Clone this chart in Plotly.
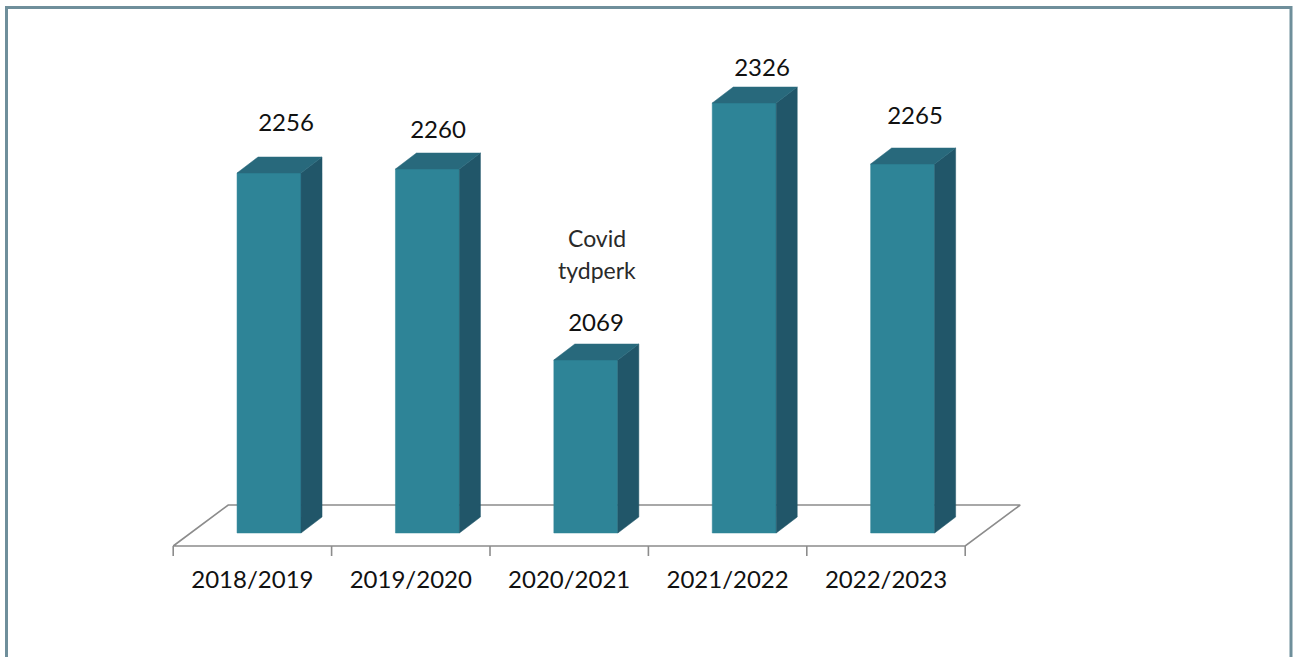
import plotly.graph_objects as go

# ---- data ----
categories = ["2018/2019", "2019/2020", "2020/2021", "2021/2022", "2022/2023"]
values = [2256, 2260, 2069, 2326, 2265]
note_lines = ["Covid", "tydperk"]
note_category = "2020/2021"

# ---- layout / styling parameters (not data) ----
W, H = 1293, 657
PX_X = 158.4          # pixels per category
X0_PX = 252.4         # pixel of first category centre
BASE = 1896           # value at bar baseline
BASE_PY = 533         # pixel row of bar baseline
FRONT_SHIFT = 0.105   # bar front-face centre offset (category units)
BAR_W = 0.404
DEPTH_DX = 21 / PX_X  # bar depth (x, category units)
DEPTH_DY = 16         # bar depth (y, value units, 1px per unit)
FLOOR_FRONT = BASE - 13
FLOOR_BACK = BASE + 28
FLOOR_DX = 55 / PX_X
label_dx = [0.212, 0.172, 0.169, 0.217, 0.183]
label_dy = [48, 37, 35, 33, 46]

FRONT_C = "#2e8497"
SIDE_C = "#215669"
TOP_C = "#28697c"
FLOOR_LINE = "#8c8c8c"

n = len(categories)
xs = list(range(n))

fig = go.Figure()

# floor
fx = [-0.5, n - 0.5, n - 0.5 + FLOOR_DX, -0.5 + FLOOR_DX, -0.5]
fy = [FLOOR_FRONT, FLOOR_FRONT, FLOOR_BACK, FLOOR_BACK, FLOOR_FRONT]
fig.add_trace(go.Scatter(x=fx, y=fy, mode="lines", fill="toself", fillcolor="white",
                         line=dict(color=FLOOR_LINE, width=1.6), hoverinfo="skip"))
# ticks
tx, ty = [], []
for k in range(n + 1):
    tx += [k - 0.5, k - 0.5, None]
    ty += [FLOOR_FRONT, FLOOR_FRONT - 10, None]
fig.add_trace(go.Scatter(x=tx, y=ty, mode="lines", line=dict(color=FLOOR_LINE, width=1.6),
                         hoverinfo="skip"))

# bars: front, side and top faces (polygons in data coordinates)
for i, v in zip(xs, values):
    xl = i + FRONT_SHIFT - BAR_W / 2
    xr = i + FRONT_SHIFT + BAR_W / 2
    # front
    fig.add_trace(go.Scatter(
        x=[xl, xr, xr, xl, xl], y=[BASE, BASE, v, v, BASE],
        mode="lines", fill="toself", fillcolor=FRONT_C, line=dict(width=0.5, color=FRONT_C),
        hoverinfo="skip"))
    # side
    fig.add_trace(go.Scatter(
        x=[xr, xr + DEPTH_DX, xr + DEPTH_DX, xr, xr],
        y=[BASE, BASE + DEPTH_DY, v + DEPTH_DY, v, BASE],
        mode="lines", fill="toself", fillcolor=SIDE_C, line=dict(width=0.5, color=SIDE_C),
        hoverinfo="skip"))
    # top
    fig.add_trace(go.Scatter(
        x=[xl, xr, xr + DEPTH_DX, xl + DEPTH_DX, xl],
        y=[v, v, v + DEPTH_DY, v + DEPTH_DY, v],
        mode="lines", fill="toself", fillcolor=TOP_C, line=dict(width=0.5, color=TOP_C),
        hoverinfo="skip"))

# data labels
fig.add_trace(go.Scatter(
    x=[i + label_dx[i] for i in xs], y=[v + label_dy[i] for i, v in enumerate(values)],
    mode="text", text=[str(v) for v in values], textposition="middle center",
    textfont=dict(family="Lato, Carlito, sans-serif", size=24, color="#111111"), hoverinfo="skip"))

# category labels
fig.add_trace(go.Scatter(
    x=xs, y=[BASE - 49] * n, mode="text", text=categories, textposition="middle center",
    textfont=dict(family="Lato, Carlito, sans-serif", size=24, color="#111111"), hoverinfo="skip"))

# covid note
ci = categories.index(note_category)
for j, line in enumerate(note_lines):
    fig.add_annotation(x=ci + 0.175, y=2191.5 - 32.5 * j, text=line, showarrow=False,
                       xanchor="center", yanchor="middle",
                       font=dict(family="Lato, sans-serif", size=23, color="#2a2a2a"))

# border
fig.add_shape(type="rect", xref="paper", yref="paper",
              x0=6.5 / W, x1=1 - 2 / W, y0=-0.1, y1=1 - 7.5 / H,
              line=dict(color="#6f8f9b", width=3), fillcolor="rgba(0,0,0,0)", layer="above")

fig.update_layout(
    width=W, height=H, margin=dict(l=0, r=0, t=0, b=0),
    paper_bgcolor="white", plot_bgcolor="white", showlegend=False, hovermode=False,
    xaxis=dict(range=[-X0_PX / PX_X, (W - X0_PX) / PX_X], visible=False, fixedrange=True),
    yaxis=dict(range=[BASE - (H - BASE_PY), BASE + BASE_PY], visible=False, fixedrange=True),
)

fig.write_html("out.html", config={"displayModeBar": False},
               post_script="document.body.style.margin='0';")
